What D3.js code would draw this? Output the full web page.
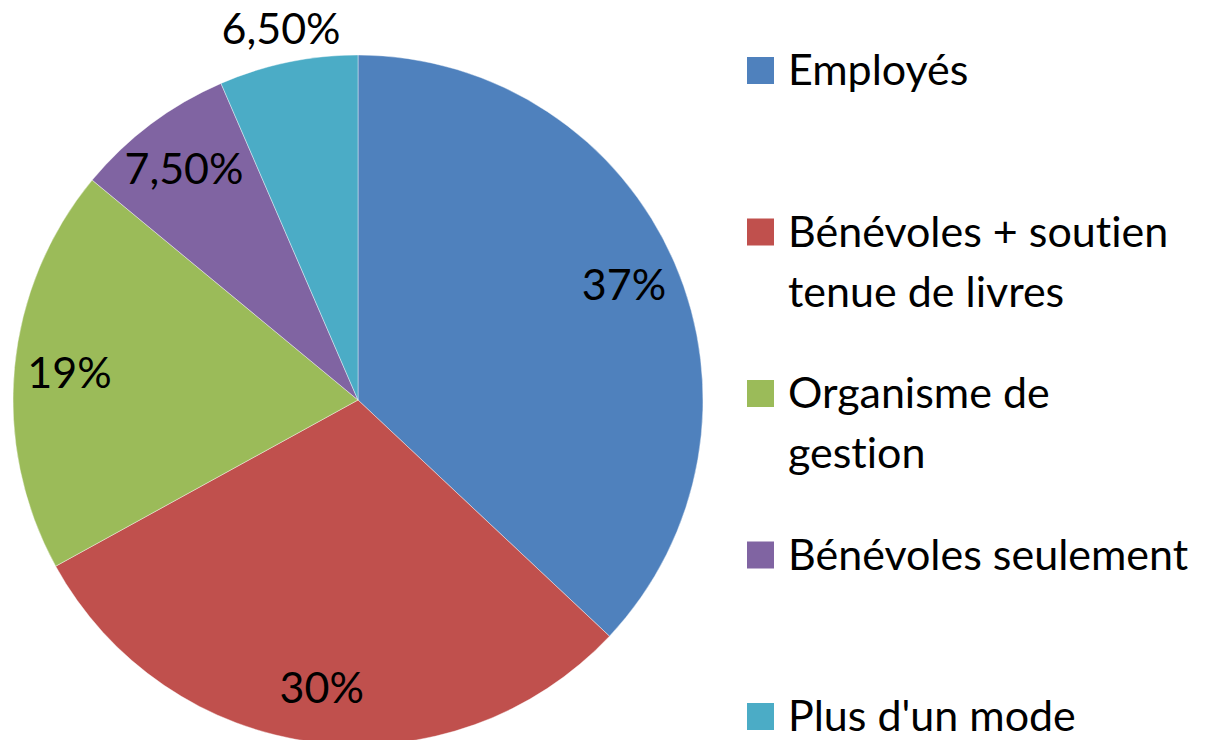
<!DOCTYPE html>
<html>
<head>
<meta charset="utf-8">
<script src="https://cdn.jsdelivr.net/npm/d3@7"></script>
<style>
  body { margin: 0; background: #fff; }
  text { font-family: Lato, "Open Sans", sans-serif; fill: #000; font-variant-ligatures: none; }
</style>
</head>
<body>
<svg id="chart"></svg>
<script>
// data
var categories = ["Employés", "Bénévoles + soutien tenue de livres", "Organisme de gestion", "Bénévoles seulement", "Plus d'un mode"];
var values = [37, 30, 19, 7.5, 6.5];
var valueLabels = ["37%", "30%", "19%", "7,50%", "6,50%"];
var legendLines = [["Employés"], ["Bénévoles + soutien", "tenue de livres"], ["Organisme de", "gestion"], ["Bénévoles seulement"], ["Plus d'un mode"]];
var colors = ["#4F81BD", "#C0504D", "#9BBB59", "#8064A2", "#4BACC6"];

var width = 1209, height = 740;
var cx = 358, cy = 400, radius = 345;

var svg = d3.select('#chart')
    .attr('width', width)
    .attr('height', height);

var data = categories.map(function(c, i) {
    return { name: c, value: values[i], label: valueLabels[i], color: colors[i], lines: legendLines[i] };
});

var pie = d3.pie().sort(null).value(function(d) { return d.value; });
var arc = d3.arc().innerRadius(0).outerRadius(radius);
var labelArc = d3.arc().innerRadius(radius * 0.84).outerRadius(radius * 0.84);
var outsideArc = d3.arc().innerRadius(radius * 1.1).outerRadius(radius * 1.1);

var g = svg.append('g')
    .attr('transform', 'translate(' + cx + ',' + cy + ')');

var arcs = pie(data);

g.selectAll('.slice')
    .data(arcs)
    .enter()
    .append('path')
    .attr('class', 'slice')
    .attr('d', arc)
    .attr('fill', function(d) { return d.data.color; })
    .attr('stroke', 'rgba(255,255,255,0.5)')
    .attr('stroke-width', 0.8);

// labels (the smallest one goes outside the pie)
g.selectAll('.lbl')
    .data(arcs)
    .enter()
    .append('text')
    .attr('class', 'lbl')
    .attr('transform', function(d, i) {
        var p = (i === arcs.length - 1) ? outsideArc.centroid(d) : labelArc.centroid(d);
        return 'translate(' + p + ')';
    })
    .attr('text-anchor', 'middle')
    .attr('dy', '0.36em')
    .style('font-size', '43px')
    .text(function(d) { return d.data.label; });

// legend
var legendY = d3.scalePoint()
    .domain(categories)
    .range([57, 703]);

var legend = svg.selectAll('.legend')
    .data(data)
    .enter()
    .append('g')
    .attr('class', 'legend')
    .attr('transform', function(d) { return 'translate(747,' + legendY(d.name) + ')'; });

legend.append('rect')
    .attr('width', 27)
    .attr('height', 27)
    .attr('fill', function(d) { return d.color; });

legend.append('text')
    .attr('x', 41)
    .attr('y', 28)
    .style('font-size', '43px')
    .selectAll('tspan')
    .data(function(d) { return d.lines; })
    .enter()
    .append('tspan')
    .attr('x', 41)
    .attr('dy', function(d, i) { return i === 0 ? 0 : 60; })
    .text(function(d) { return d; });
</script>
</body>
</html>
